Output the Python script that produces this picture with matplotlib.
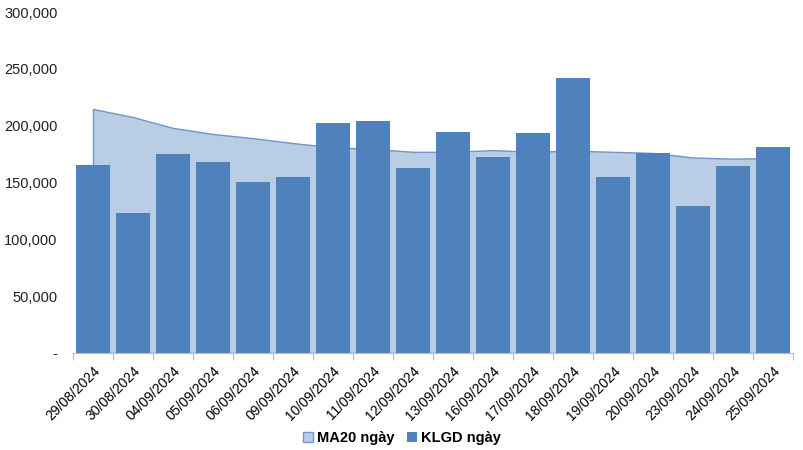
import matplotlib
matplotlib.use('Agg')
import matplotlib.pyplot as plt
import numpy as np
from matplotlib.ticker import FuncFormatter

plt.rcParams['font.family'] = ['Liberation Sans', 'DejaVu Sans']

dates = ['29/08/2024', '30/08/2024', '04/09/2024', '05/09/2024', '06/09/2024',
         '09/09/2024', '10/09/2024', '11/09/2024', '12/09/2024', '13/09/2024',
         '16/09/2024', '17/09/2024', '18/09/2024', '19/09/2024', '20/09/2024',
         '23/09/2024', '24/09/2024', '25/09/2024']
klgd = [165400, 123000, 175000, 168000, 150500, 155000, 202000, 204000, 163000,
        194500, 172500, 193500, 242000, 155000, 176000, 129000, 164500, 181000]
ma20 = [214700, 207600, 198000, 192700, 189000, 184700, 181000, 179500, 177000,
        177000, 178500, 177000, 178000, 177000, 176000, 172000, 171000, 171500]

light = '#B9CDE5'
dark = '#4F81BD'

fig = plt.figure(figsize=(8.04, 4.5), dpi=100)
ax = fig.add_axes([73 / 804, 1 - 353 / 450, 720 / 804, 341 / 450])

x = np.arange(len(dates))
ax.fill_between(x, ma20, 0, facecolor=light, edgecolor='#6F96CB', linewidth=1.0,
                label='MA20 ngày', zorder=1)
ax.bar(x, klgd, width=0.83, color=dark, label='KLGD ngày', zorder=2)

ax.set_xlim(-0.5, len(dates) - 0.5)
ax.set_ylim(0, 300000)
ax.set_yticks(np.arange(0, 300001, 50000))
ax.yaxis.set_major_formatter(FuncFormatter(lambda v, p: '-' if v == 0 else f'{int(v):,}'))
ax.tick_params(axis='y', length=0, labelsize=10.5, pad=11, colors='#222222')

ax.set_xticks(np.arange(-0.5, len(dates), 1.0))
ax.set_xticklabels([])
ax.set_xticks(x, minor=True)
ax.set_xticklabels(dates, minor=True, rotation=45, ha='right', rotation_mode='anchor',
                   fontsize=10)
ax.tick_params(axis='x', which='major', length=5, color='#BBBBBB')
ax.tick_params(axis='x', which='minor', length=0, pad=8)

for s in ['top', 'right', 'left']:
    ax.spines[s].set_visible(False)
ax.spines['bottom'].set_color('#BBBBBB')

handles, labels = ax.get_legend_handles_labels()
fig.legend(handles, labels, loc='center', bbox_to_anchor=(0.5, 1 - 438 / 450), ncol=2,
           frameon=False, prop={'weight': 'bold', 'size': 10.5}, handlelength=0.7,
           handleheight=0.7, handletextpad=0.3, columnspacing=0.8)

fig.savefig('out.png', dpi=100)
